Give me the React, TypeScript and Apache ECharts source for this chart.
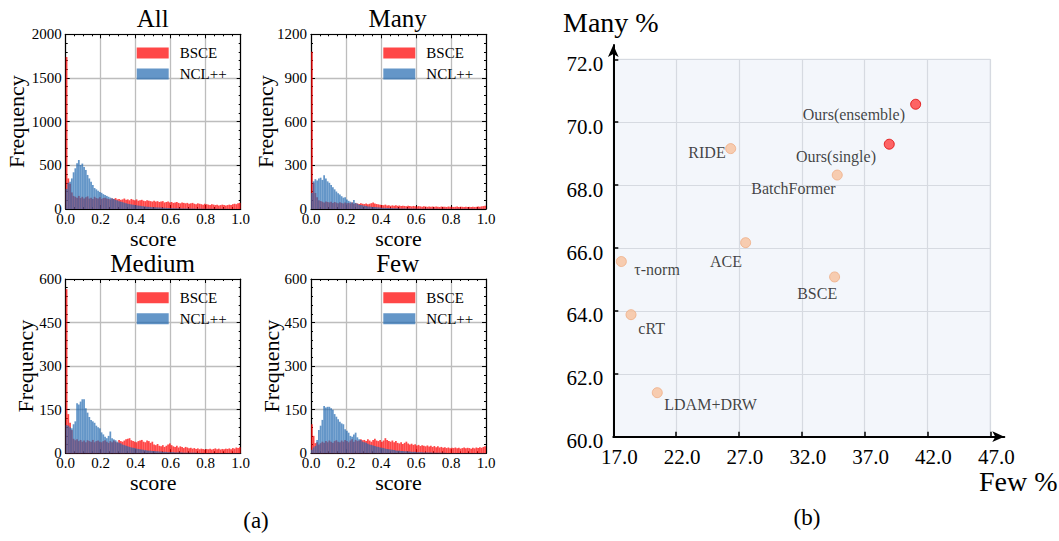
import React, { useEffect, useRef } from 'react';
import * as echarts from 'echarts';

const FONT = '"Liberation Serif", "Times New Roman", serif';

// ---------- Histogram data (100 bins of width 0.01 on [0, 1]) ----------
const binStarts = Array.from({ length: 100 }, (_, i) => (i / 100).toFixed(2));

const panelTitles = ['All', 'Many', 'Medium', 'Few'];
const panelYMax = [2000, 1200, 600, 600];
const panelYInterval = [500, 300, 150, 150];
const xTickInterval = 0.2;

const allBsce = [
  1740, 350, 290, 190, 150, 140, 130, 150, 125, 140,
  120, 135, 145, 120, 130, 115, 140, 125, 120, 135,
  115, 125, 130, 120, 115, 110, 120, 115, 125, 110,
  115, 105, 110, 120, 105, 110, 100, 115, 105, 100,
  110, 95, 100, 105, 95, 90, 100, 95, 90, 85,
  95, 85, 90, 80, 85, 90, 75, 80, 85, 75,
  80, 70, 75, 80, 70, 65, 75, 70, 65, 70,
  60, 65, 70, 60, 55, 65, 60, 55, 50, 60,
  55, 50, 45, 55, 50, 45, 50, 40, 45, 50,
  45, 40, 45, 50, 45, 55, 60, 55, 65, 70,
];
const allNcl = [
  230, 300, 313, 350, 420, 466, 523, 561, 504, 520,
  480, 447, 390, 350, 313, 275, 240, 225, 210, 195,
  185, 170, 160, 150, 140, 130, 122, 115, 105, 98,
  90, 84, 78, 72, 66, 60, 56, 52, 48, 45,
  42, 39, 36, 33, 31, 29, 27, 25, 23, 21,
  20, 19, 18, 17, 16, 15, 14, 13, 12, 11,
  10, 10, 9, 9, 8, 8, 7, 7, 6, 6,
  6, 5, 5, 5, 4, 4, 4, 4, 3, 3,
  3, 3, 3, 3, 2, 2, 2, 2, 2, 2,
  2, 2, 2, 1, 1, 1, 1, 1, 1, 1,
];
const manyBsce = [
  1080, 180, 110, 80, 60, 55, 50, 45, 52, 48,
  45, 50, 42, 48, 44, 40, 46, 42, 38, 45,
  40, 42, 38, 44, 36, 40, 38, 35, 40, 36,
  34, 38, 32, 36, 40, 44, 38, 34, 32, 30,
  28, 26, 30, 24, 26, 22, 25, 23, 26, 22,
  24, 20, 23, 21, 19, 22, 20, 18, 21, 19,
  17, 20, 18, 16, 19, 17, 15, 18, 16, 17,
  15, 18, 16, 14, 17, 15, 16, 14, 17, 15,
  16, 14, 15, 17, 14, 16, 15, 13, 16, 14,
  15, 13, 16, 14, 15, 17, 16, 18, 20, 22,
];
const manyNcl = [
  110, 190, 205, 195, 210, 215, 200, 232, 210, 190,
  180, 165, 150, 135, 120, 108, 100, 88, 78, 80,
  66, 56, 50, 45, 62, 42, 36, 30, 28, 25,
  22, 20, 18, 17, 15, 14, 13, 12, 11, 10,
  9, 8, 8, 7, 7, 6, 6, 5, 5, 5,
  4, 4, 4, 4, 3, 3, 3, 3, 3, 3,
  2, 2, 2, 2, 2, 2, 2, 2, 2, 2,
  2, 2, 1, 1, 1, 1, 1, 1, 1, 1,
  1, 1, 1, 1, 1, 1, 1, 1, 1, 1,
  1, 1, 1, 1, 1, 1, 1, 1, 1, 1,
];
const mediumBsce = [
  565, 135, 105, 80, 50, 45, 48, 42, 46, 40,
  44, 38, 45, 42, 40, 46, 38, 42, 44, 40,
  38, 42, 45, 40, 36, 42, 38, 44, 40, 36,
  46, 42, 40, 44, 48, 50, 52, 45, 42, 40,
  38, 42, 44, 46, 40, 38, 44, 42, 36, 40,
  30, 28, 32, 26, 24, 28, 22, 26, 30, 34,
  28, 24, 22, 26, 20, 24, 22, 18, 22, 20,
  17, 19, 16, 18, 15, 17, 14, 16, 15, 13,
  15, 14, 16, 13, 15, 17, 14, 16, 13, 15,
  14, 16, 15, 17, 14, 18, 16, 20, 18, 21,
];
const mediumNcl = [
  97, 95, 90, 86, 100, 110, 172, 168, 178, 186,
  186, 155, 140, 125, 115, 110, 105, 95, 90, 86,
  72, 65, 57, 52, 60, 75, 52, 48, 45, 40,
  36, 34, 30, 28, 26, 24, 22, 20, 19, 18,
  16, 15, 14, 13, 12, 11, 10, 9, 9, 8,
  8, 7, 7, 6, 6, 5, 5, 5, 4, 4,
  4, 4, 3, 3, 3, 3, 3, 2, 2, 2,
  2, 2, 2, 2, 2, 1, 1, 1, 1, 1,
  1, 1, 1, 1, 1, 1, 1, 1, 1, 1,
  1, 1, 1, 1, 1, 1, 1, 1, 1, 1,
];
const fewBsce = [
  100, 60, 35, 38, 30, 35, 40, 36, 42, 38,
  44, 40, 36, 42, 45, 40, 38, 44, 40, 46,
  42, 38, 44, 48, 40, 46, 42, 44, 48, 45,
  46, 42, 48, 44, 40, 46, 50, 44, 42, 46,
  40, 44, 52, 46, 42, 40, 44, 38, 42, 36,
  34, 38, 32, 36, 40, 34, 30, 33, 29, 31,
  27, 29, 25, 28, 26, 24, 27, 23, 26, 22,
  25, 21, 24, 20, 22, 19, 21, 18, 20, 17,
  19, 18, 20, 17, 19, 16, 18, 20, 17, 19,
  18, 16, 19, 17, 20, 18, 21, 19, 22, 24,
];
const fewNcl = [
  12, 20, 25, 46, 80, 95, 115, 163, 158, 160,
  160, 155, 150, 135, 126, 117, 109, 103, 100, 83,
  78, 71, 60, 57, 65, 71, 55, 48, 46, 40,
  38, 36, 33, 30, 29, 27, 25, 23, 22, 20,
  19, 18, 16, 15, 14, 13, 12, 11, 10, 9,
  9, 8, 8, 7, 7, 6, 6, 5, 5, 5,
  4, 4, 4, 4, 3, 3, 3, 3, 3, 2,
  2, 2, 2, 2, 2, 2, 2, 1, 1, 1,
  1, 1, 1, 1, 1, 1, 1, 1, 1, 1,
  1, 1, 1, 1, 1, 1, 1, 1, 1, 1,
];
const bsceSeries = [allBsce, manyBsce, mediumBsce, fewBsce];
const nclSeries = [allNcl, manyNcl, mediumNcl, fewNcl];
const seriesNames = ['BSCE', 'NCL++'];

// ---------- Scatter data (b) ----------
const methods = ['Ours(ensemble)', 'Ours(single)', 'RIDE', 'BatchFormer', 'ACE', 'τ-norm', 'BSCE', 'cRT', 'LDAM+DRW'];
const fewAcc = [41.06, 38.96, 26.34, 34.82, 27.53, 17.64, 34.61, 18.41, 20.5];
const manyAcc = [70.57, 69.3, 69.16, 68.32, 66.17, 65.57, 65.08, 63.88, 61.4];
const fewTicks = { min: 17, max: 47, interval: 5 };
const manyTicks = { min: 60, max: 72, interval: 2 };

export default function App() {
  const ref = useRef<HTMLDivElement>(null);

  useEffect(() => {
    if (!ref.current) return;
    const chart = echarts.init(ref.current, undefined, { renderer: 'svg' });

    // layout
    const histGrids = [
      { left: 65.7, top: 34.3, width: 175, height: 174.7, nameGap: 38, legendLeft: 136.7, legendTop: 45.5, titleX: 152.7, titleY: 18.6 },
      { left: 311, top: 34.3, width: 175, height: 174.7, nameGap: 35, legendLeft: 383.3, legendTop: 45.5, titleX: 397.7, titleY: 18.6 },
      { left: 65.7, top: 279, width: 175, height: 174.3, nameGap: 29, legendLeft: 136.7, legendTop: 290.2, titleX: 152.7, titleY: 263.6 },
      { left: 311, top: 279, width: 175, height: 174.3, nameGap: 29, legendLeft: 383.3, legendTop: 290.2, titleX: 397.7, titleY: 263.6 },
    ];
    const labelLayout: Record<string, { off: [number, number]; align: string }> = {
      'Ours(ensemble)': { off: [-10.7, 10.7], align: 'right' },
      'Ours(single)': { off: [-13.3, 12.4], align: 'right' },
      RIDE: { off: [-5, 4], align: 'right' },
      BatchFormer: { off: [-1.6, 13], align: 'right' },
      ACE: { off: [-3.7, 18.7], align: 'right' },
      'τ-norm': { off: [13, 7.6], align: 'left' },
      BSCE: { off: [2.6, 16.4], align: 'right' },
      cRT: { off: [7.3, 14.3], align: 'left' },
      'LDAM+DRW': { off: [7, 12], align: 'left' },
    };

    const black = '#000';
    const axisLine = { show: true, onZero: false, lineStyle: { color: black, width: 1.2 } };
    const tick = { show: true, inside: true, length: 4, lineStyle: { color: black, width: 1 } };

    const grids: any[] = [];
    const xAxes: any[] = [];
    const yAxes: any[] = [];
    const series: any[] = [];
    const legends: any[] = [];
    const graphics: any[] = [];

    histGrids.forEach((g, k) => {
      grids.push({ left: g.left, top: g.top, width: g.width, height: g.height, containLabel: false });
      xAxes.push({
        gridIndex: k, type: 'value', position: 'bottom', min: 0, max: 1, interval: xTickInterval,
        axisLine, axisTick: tick,
        minorTick: { show: true, splitNumber: 4, length: 2, lineStyle: { color: black } },
        axisLabel: { fontFamily: FONT, fontSize: 15, color: black, margin: 2, formatter: (v: number) => v.toFixed(1) },
        splitLine: { show: true, lineStyle: { color: '#bdbdbd', width: 1.3 } },
        name: 'score', nameLocation: 'middle', nameGap: 18, nameMoveOverlap: false,
        nameTextStyle: { fontFamily: FONT, fontSize: 22, color: black, verticalAlign: 'top' },
      });
      xAxes.push({
        gridIndex: k, type: 'value', position: 'top', min: 0, max: 1, interval: xTickInterval,
        axisLine, axisTick: tick,
        minorTick: { show: true, splitNumber: 4, length: 2, lineStyle: { color: black } },
        axisLabel: { show: false }, splitLine: { show: false },
      });
      xAxes.push({
        gridIndex: k, type: 'category', position: 'bottom', data: binStarts, show: false, boundaryGap: true,
      });
      yAxes.push({
        gridIndex: k, type: 'value', position: 'left', min: 0, max: panelYMax[k], interval: panelYInterval[k],
        axisLine, axisTick: tick,
        minorTick: { show: true, splitNumber: 5, length: 2, lineStyle: { color: black } },
        axisLabel: { fontFamily: FONT, fontSize: 15, color: black, margin: 4, formatter: (v: number) => String(v) },
        splitLine: { show: true, lineStyle: { color: '#bdbdbd', width: 1.3 } },
        name: 'Frequency', nameLocation: 'middle', nameGap: g.nameGap, nameMoveOverlap: false,
        nameTextStyle: { fontFamily: FONT, fontSize: 22, color: black },
      });
      yAxes.push({
        gridIndex: k, type: 'value', position: 'right', min: 0, max: panelYMax[k], interval: panelYInterval[k],
        axisLine, axisTick: tick,
        minorTick: { show: true, splitNumber: 5, length: 2, lineStyle: { color: black } },
        axisLabel: { show: false }, splitLine: { show: false },
      });
      series.push({
        type: 'bar', name: seriesNames[0], xAxisIndex: 3 * k + 2, yAxisIndex: 2 * k,
        data: bsceSeries[k], barCategoryGap: '0%', barGap: '-100%', silent: true,
        itemStyle: { color: 'rgba(255,0,0,0.72)' },
      });
      series.push({
        type: 'bar', name: seriesNames[1], xAxisIndex: 3 * k + 2, yAxisIndex: 2 * k,
        data: nclSeries[k], barCategoryGap: '0%', barGap: '-100%', silent: true,
        itemStyle: { color: 'rgba(34,105,176,0.7)' },
      });
      legends.push({
        data: seriesNames, orient: 'vertical', left: g.legendLeft, top: g.legendTop,
        itemWidth: 32, itemHeight: 11, itemGap: 6, icon: 'rect', selectedMode: false, padding: 0,
        textStyle: { fontFamily: FONT, fontSize: 15, color: black, padding: [0, 0, 0, 6] },
      });
      graphics.push({
        type: 'text', x: g.titleX, y: g.titleY,
        style: { text: panelTitles[k], fontFamily: FONT, fontSize: 25, fill: black, align: 'center', verticalAlign: 'middle' },
      });
    });

    // scatter grid
    const sg = 4;
    grids.push({
      left: 613.3, top: 59.3, width: 377, height: 377.4, show: true,
      backgroundColor: '#f3f6fb', borderColor: '#d6dae1', borderWidth: 1,
    });
    // arrow axes grid
    grids.push({ left: 613.3, top: 45, width: 391, height: 391.7 });

    const sTick = { show: true, inside: true, length: 5, lineStyle: { color: black, width: 1.5 } };
    xAxes.push({
      gridIndex: sg, type: 'value', min: fewTicks.min, max: fewTicks.max, interval: fewTicks.interval,
      axisLine: { show: false, onZero: false }, axisTick: sTick,
      axisLabel: { fontFamily: FONT, fontSize: 21, color: black, margin: 10, padding: [0, 0, 0, 12], formatter: (v: number) => v.toFixed(1) },
      splitLine: { show: true, lineStyle: { color: '#d6dae1', width: 1.2 } },
    });
    xAxes.push({
      gridIndex: sg + 1, type: 'value', min: 0, max: 1,
      axisLine: { show: true, onZero: false, symbol: ['none', 'arrow'], symbolSize: [8, 12], lineStyle: { color: black, width: 2 } },
      axisTick: { show: false }, axisLabel: { show: false }, splitLine: { show: false },
    });
    yAxes.push({
      gridIndex: sg, type: 'value', min: manyTicks.min, max: manyTicks.max, interval: manyTicks.interval,
      axisLine: { show: false, onZero: false }, axisTick: sTick,
      axisLabel: { fontFamily: FONT, fontSize: 21, color: black, margin: 10, verticalAlign: 'top', lineHeight: 9, formatter: (v: number) => v.toFixed(1) },
      splitLine: { show: true, lineStyle: { color: '#d6dae1', width: 1.2 } },
    });
    yAxes.push({
      gridIndex: sg + 1, type: 'value', min: 0, max: 1,
      axisLine: { show: true, onZero: false, symbol: ['none', 'arrow'], symbolSize: [8, 12], lineStyle: { color: black, width: 2 } },
      axisTick: { show: false }, axisLabel: { show: false }, splitLine: { show: false },
    });

    series.push({
      type: 'scatter', name: 'methods', xAxisIndex: 12, yAxisIndex: 8, symbolSize: 10, silent: true,
      data: methods.map((m, i) => {
        const ours = m.startsWith('Ours');
        const lay = labelLayout[m];
        return {
          name: m,
          value: [fewAcc[i], manyAcc[i]],
          itemStyle: ours
            ? { color: '#ff4040', borderColor: '#dd0000', borderWidth: 1 }
            : { color: '#f8c29e', borderColor: '#efad83', borderWidth: 1 },
          label: {
            show: true, formatter: m, position: 'inside', offset: lay.off, align: lay.align, verticalAlign: 'middle',
            fontFamily: FONT, fontSize: 16, color: '#111',
          },
        };
      }),
    });

    graphics.push(
      { type: 'text', x: 563, y: 22, style: { text: 'Many %', fontFamily: FONT, fontSize: 28, fill: black, align: 'left', verticalAlign: 'middle' } },
      { type: 'text', x: 979, y: 481, style: { text: 'Few %', fontFamily: FONT, fontSize: 28, fill: black, align: 'left', verticalAlign: 'middle' } },
      { type: 'text', x: 256, y: 520, style: { text: '(a)', fontFamily: FONT, fontSize: 23, fill: black, align: 'center', verticalAlign: 'middle' } },
      { type: 'text', x: 807, y: 517, style: { text: '(b)', fontFamily: FONT, fontSize: 23, fill: black, align: 'center', verticalAlign: 'middle' } },
    );

    chart.setOption({
      animation: false,
      backgroundColor: '#fff',
      textStyle: { fontFamily: FONT },
      grid: grids,
      xAxis: xAxes,
      yAxis: yAxes,
      legend: legends,
      series,
      graphic: { elements: graphics },
    });

    return () => chart.dispose();
  }, []);

  return <div ref={ref} style={{ position: 'fixed', left: 0, top: 0, width: 1059, height: 541 }} />;
}
